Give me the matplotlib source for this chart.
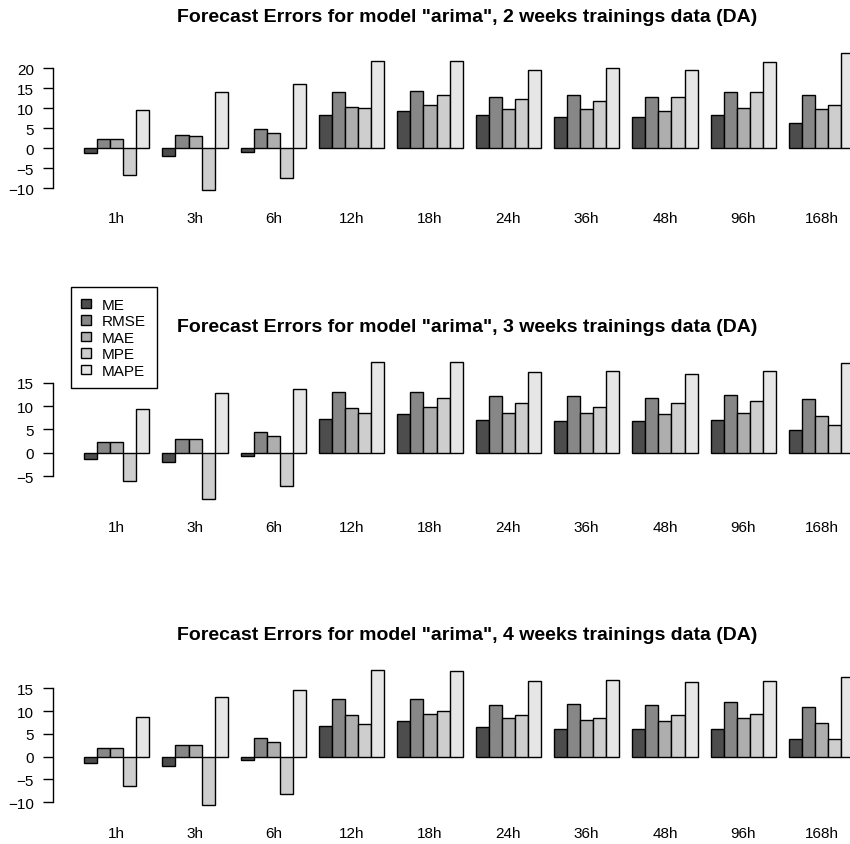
import matplotlib
matplotlib.use('agg')
import matplotlib.pyplot as plt
from matplotlib.patches import Patch

plt.rcParams['font.family'] = ['Liberation Sans', 'DejaVu Sans']

horizons = ["1h", "3h", "6h", "12h", "18h", "24h", "36h", "48h", "96h", "168h"]
measures = ["ME", "RMSE", "MAE", "MPE", "MAPE"]
colors = ["#4D4D4D", "#878787", "#AEAEAE", "#CECECE", "#E6E6E6"]
weeks = [2, 3, 4]

# 2 weeks of training data
me_2w = [-1.1, -1.9, -0.8, 8.2, 9.3, 8.2, 7.75, 7.75, 8.2, 6.3]
rmse_2w = [2.3, 3.3, 4.8, 14.1, 14.4, 12.9, 13.3, 12.9, 14.1, 13.3]
mae_2w = [2.3, 3.0, 3.75, 10.3, 10.7, 9.7, 9.7, 9.3, 10.0, 9.7]
mpe_2w = [-6.7, -10.4, -7.3, 10.0, 13.3, 12.25, 11.8, 12.9, 14.1, 10.75]
mape_2w = [9.6, 14.1, 16.0, 21.8, 21.8, 19.6, 20.0, 19.6, 21.5, 23.7]

# 3 weeks of training data
me_3w = [-1.4, -1.9, -0.65, 7.3, 8.3, 7.05, 6.75, 6.75, 7.05, 4.8]
rmse_3w = [2.3, 2.9, 4.5, 13.0, 13.0, 12.2, 12.2, 11.8, 12.45, 11.5]
mae_3w = [2.3, 2.9, 3.5, 9.6, 9.9, 8.6, 8.6, 8.3, 8.6, 8.0]
mpe_3w = [-6.0, -9.9, -7.05, 8.6, 11.8, 10.6, 9.9, 10.6, 11.2, 6.0]
mape_3w = [9.3, 12.8, 13.7, 19.5, 19.5, 17.3, 17.55, 17.0, 17.55, 19.2]

# 4 weeks of training data
me_4w = [-1.3, -2.0, -0.65, 6.8, 7.8, 6.45, 6.15, 6.15, 6.15, 3.9]
rmse_4w = [1.9, 2.5, 4.2, 12.6, 12.6, 11.3, 11.65, 11.3, 12.0, 11.0]
mae_4w = [1.9, 2.5, 3.2, 9.1, 9.4, 8.4, 8.1, 7.8, 8.4, 7.5]
mpe_4w = [-6.5, -10.7, -8.1, 7.1, 10.0, 9.1, 8.4, 9.1, 9.4, 3.9]
mape_4w = [8.7, 13.0, 14.6, 19.1, 18.8, 16.6, 16.9, 16.3, 16.6, 17.5]

panels = [
    [me_2w, rmse_2w, mae_2w, mpe_2w, mape_2w],
    [me_3w, rmse_3w, mae_3w, mpe_3w, mape_3w],
    [me_4w, rmse_4w, mae_4w, mpe_4w, mape_4w],
]
yticks = [[-10, -5, 0, 5, 10, 15, 20], [-5, 0, 5, 10, 15], [-10, -5, 0, 5, 10, 15]]

W, H = 850, 845
fig = plt.figure(figsize=(8.5, 8.45), dpi=100)

# axes boxes in pixels (top, bottom) - plot region runs past the right edge
boxes = [(48.9, 196.5), (357.5, 505.3), (665.3, 811.8)]
title_y = [18, 327, 636]
x_left, x_right = 53.3, 885.0

ngroup = len(horizons)
nmeas = len(measures)
xmax = 1 + ngroup * (nmeas + 1) - 1
xpad = 0.04 * (xmax - 1)

for p, data in enumerate(panels):
    top, bot = boxes[p]
    ax = fig.add_axes([x_left / W, 1 - bot / H, (x_right - x_left) / W, (bot - top) / H])
    for m in range(nmeas):
        xs = [1 + g * (nmeas + 1) + m for g in range(ngroup)]
        ax.bar(xs, data[m], width=1, align='edge', color=colors[m],
               edgecolor='black', linewidth=1.0)
    allv = [v for s in data for v in s] + [0]
    lo, hi = min(allv), max(allv)
    ax.set_ylim(lo - 0.04 * (hi - lo), hi + 0.04 * (hi - lo))
    ax.set_xlim(1 - xpad, xmax + xpad)

    centers = [1 + g * (nmeas + 1) + nmeas / 2 for g in range(ngroup)]
    ax.set_xticks(centers)
    ax.set_xticklabels(horizons, fontsize=11)
    ax.tick_params(axis='x', length=0, pad=11)
    ax.set_yticks(yticks[p])
    ax.tick_params(axis='y', length=7, width=1, pad=7, labelsize=11)
    for s in ['top', 'right', 'bottom']:
        ax.spines[s].set_visible(False)
    ax.spines['left'].set_bounds(yticks[p][0], yticks[p][-1])
    ax.spines['left'].set_linewidth(1)

    fig.text(467 / W, 1 - title_y[p] / H,
             'Forecast Errors for model "arima", %d weeks trainings data (DA)' % weeks[p],
             ha='center', va='center', fontsize=14, fontweight='bold')

handles = [Patch(facecolor=c, edgecolor='black', linewidth=1.0) for c in colors]
fig.legend(handles, measures, loc='upper left', bbox_to_anchor=(70.7 / W, 1 - 288.3 / H),
           fancybox=False, edgecolor='black', framealpha=1, fontsize=11,
           handlelength=0.6, handleheight=0.6, handletextpad=0.75,
           labelspacing=0.16, borderpad=0.7, borderaxespad=0)

fig.savefig('out.png', dpi=100)
